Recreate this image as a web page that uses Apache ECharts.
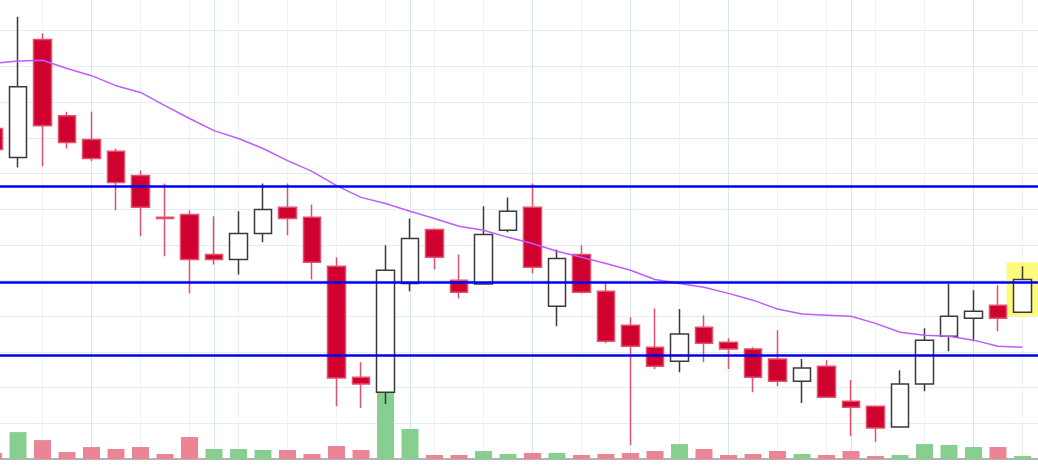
<!DOCTYPE html>
<html>
<head>
<meta charset="utf-8">
<script src="https://cdn.jsdelivr.net/npm/echarts@6/dist/echarts.min.js"></script>
<style>
  html, body { margin: 0; padding: 0; background: #fff; }
  #main { width: 1038px; height: 470px; }
</style>
</head>
<body>
<div id="main"></div>
<script>
// price data, one entry per session (last slot on the axis is left empty)
var open  = [29.26, 28.45, 31.75, 29.62, 28.95, 28.62, 27.94, 26.77, 26.85, 25.73, 25.59, 26.32, 27.05, 26.77, 25.40, 22.29, 21.87, 24.92, 26.43, 25.01, 24.90, 26.41, 27.05, 24.28, 25.73, 24.70, 23.75, 23.13, 22.74, 23.69, 23.27, 23.08, 22.80, 22.18, 22.60, 21.62, 21.48, 20.90, 22.10, 23.44, 23.94, 24.31, 24.11];
var close = [28.67, 30.43, 29.34, 28.87, 28.42, 27.75, 27.05, 26.74, 25.59, 25.59, 26.32, 26.99, 26.74, 25.51, 22.27, 22.10, 25.29, 26.18, 25.65, 24.67, 26.29, 26.94, 25.37, 25.62, 24.67, 23.30, 23.16, 22.60, 23.50, 23.24, 23.08, 22.29, 22.18, 22.55, 21.73, 21.45, 20.87, 22.10, 23.33, 24.00, 24.14, 23.94, 25.03];
var low   = [28.53, 28.17, 28.20, 28.70, 28.34, 26.97, 26.24, 25.68, 24.64, 25.45, 25.17, 26.07, 26.27, 25.03, 21.48, 21.43, 21.54, 24.70, 25.31, 24.50, 24.88, 26.35, 25.20, 23.72, 24.64, 23.24, 20.39, 22.52, 22.43, 22.71, 22.52, 21.87, 22.04, 21.57, 21.71, 20.64, 20.48, 20.90, 21.90, 23.02, 23.30, 23.58, 24.11];
var high  = [29.43, 32.39, 31.92, 29.73, 29.73, 28.70, 28.08, 27.72, 26.97, 26.80, 26.94, 27.72, 27.72, 27.13, 25.65, 22.71, 25.99, 26.74, 26.46, 25.73, 27.08, 27.33, 27.72, 25.87, 25.99, 24.95, 23.97, 24.22, 24.20, 24.03, 23.38, 23.13, 23.61, 22.80, 22.77, 22.21, 21.48, 22.49, 23.66, 24.90, 24.73, 24.87, 25.40];
var volume = [65, 290, 204, 75, 129, 108, 129, 54, 237, 108, 108, 97, 97, 54, 140, 97, 721, 323, 43, 43, 86, 54, 65, 65, 43, 54, 65, 86, 161, 108, 43, 54, 86, 54, 43, 86, 32, 43, 161, 151, 129, 129, 32];
var ma = [31.08, 31.15, 31.17, 30.94, 30.74, 30.46, 30.27, 29.90, 29.54, 29.20, 28.98, 28.70, 28.36, 28.06, 27.66, 27.33, 27.16, 26.94, 26.74, 26.52, 26.41, 26.21, 26.04, 25.82, 25.65, 25.48, 25.29, 25.03, 24.92, 24.81, 24.64, 24.45, 24.20, 24.06, 24.03, 24.00, 23.80, 23.55, 23.47, 23.44, 23.33, 23.16, 23.13];
var levels = [27.64, 24.96, 22.91];     // horizontal blue lines
var weekStarts = [4, 9, 17, 22, 26, 30, 35, 40];
var highlightIdx = 42;

var days = [];
for (var i = 0; i <= open.length; i++) days.push('d' + (i + 1));

var candles = [];
var vols = [];
for (var i = 0; i < open.length; i++) {
  candles.push([open[i], close[i], low[i], high[i]]);
  var up = i === 0 ? close[i] >= open[i] : close[i] >= close[i - 1];
  vols.push({ value: volume[i], itemStyle: { color: up ? '#86cf8f' : '#eb8595' } });
}
candles.push('-');
vols.push('-');
var maData = ma.concat(['-']);

var myChart = echarts.init(document.getElementById('main'));

var option = {
  animation: false,
  backgroundColor: '#fff',
  grid: { left: -6.5, right: -9, top: -5, bottom: 11, outerBoundsMode: 'none', containLabel: false },
  xAxis: [
    {
      type: 'category',
      data: days,
      boundaryGap: false,
      axisLine: { show: true, onZero: false, lineStyle: { color: '#b3b3b3', width: 2 } },
      axisTick: { show: false },
      axisLabel: { show: false },
      splitLine: { show: true, lineStyle: { color: '#ebf3f6', width: 1 } }
    },
    {
      type: 'category',
      data: days,
      boundaryGap: false,
      position: 'top',
      axisLine: { show: false },
      axisTick: { show: false },
      axisLabel: { show: false },
      splitLine: {
        show: true,
        interval: function (idx) { return weekStarts.indexOf(idx) >= 0; },
        lineStyle: { color: '#d7e6ed', width: 1 }
      }
    }
  ],
  yAxis: [
    {
      type: 'value',
      min: 20, max: 33, interval: 1,
      axisLine: { show: false },
      axisTick: { show: false },
      axisLabel: { show: false },
      splitLine: { show: true, lineStyle: { color: '#e2eef2', width: 1 } }
    },
    {
      type: 'value',
      min: 0, max: 5000,
      axisLine: { show: false },
      axisTick: { show: false },
      axisLabel: { show: false },
      splitLine: { show: false }
    }
  ],
  series: [
    {
      name: 'highlight',
      type: 'custom',
      z: 1,
      data: [[highlightIdx, high[highlightIdx], low[highlightIdx]]],
      renderItem: function (params, api) {
        var p1 = api.coord([api.value(0), api.value(1)]);
        var p2 = api.coord([api.value(0), api.value(2)]);
        var w = api.size([1, 0])[0] * 1.3;
        return {
          type: 'rect',
          shape: { x: p1[0] - w / 2, y: p1[1] - 4, width: w, height: p2[1] - p1[1] + 8 },
          style: { fill: '#fcfc7c' }
        };
      }
    },
    {
      name: 'volume',
      type: 'bar',
      yAxisIndex: 1,
      barWidth: 17,
      z: 2,
      data: vols
    },
    {
      name: 'price',
      type: 'candlestick',
      barWidth: 18,
      z: 3,
      data: candles,
      itemStyle: {
        color: '#ffffff',
        color0: '#d0002f',
        borderColor: '#3a3a3a',
        borderColor0: '#e4506c',
        borderWidth: 1.5
      }
    },
    {
      name: 'MA',
      type: 'line',
      z: 4,
      data: maData,
      symbol: 'none',
      silent: true,
      lineStyle: { color: '#bd5cff', width: 1.5 },
      markLine: {
        silent: true,
        symbol: ['none', 'none'],
        label: { show: false },
        lineStyle: { color: '#0000ee', width: 2.5, type: 'solid' },
        data: levels.map(function (v) { return { yAxis: v }; })
      }
    }
  ]
};

myChart.setOption(option);
</script>
</body>
</html>
